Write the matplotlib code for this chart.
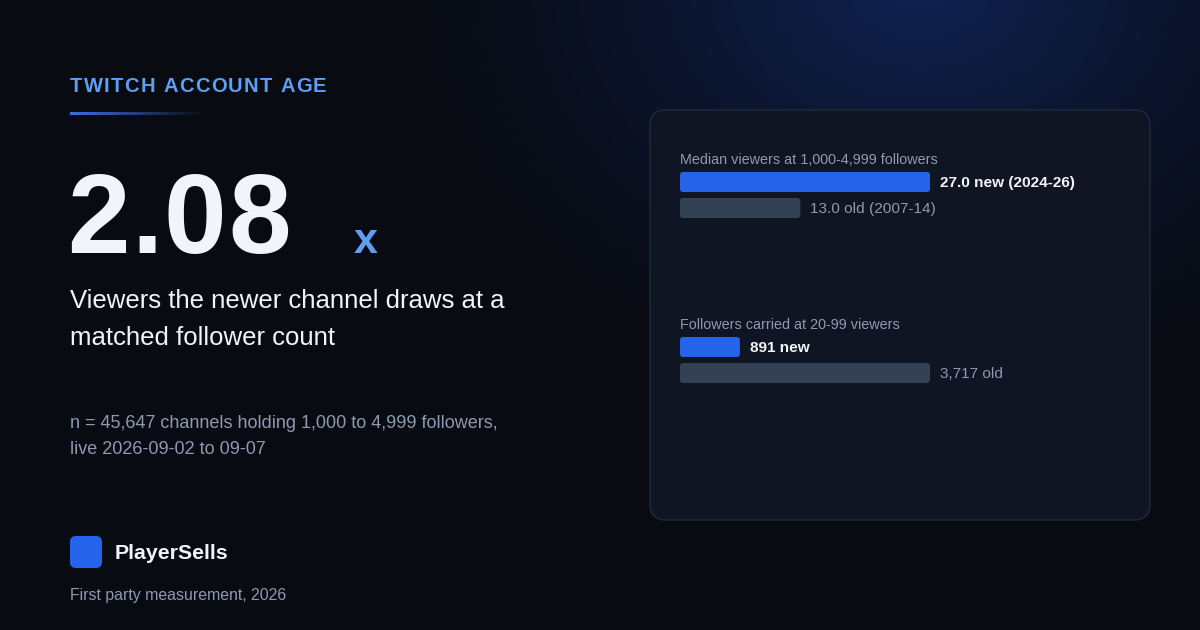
import numpy as np
import matplotlib
matplotlib.use("Agg")
import matplotlib.pyplot as plt
from matplotlib.patches import FancyBboxPatch
from matplotlib.colors import LinearSegmentedColormap

plt.rcParams["font.family"] = ["Liberation Sans", "DejaVu Sans"]

# chart data
kicker = "TWITCH ACCOUNT AGE"
headline_value = "2.08"
headline_unit = "x"
headline_text = ["Viewers the newer channel draws at a", "matched follower count"]
note_lines = ["n = 45,647 channels holding 1,000 to 4,999 followers,",
              "live 2026-09-02 to 09-07"]
brand = "PlayerSells"
footer = "First party measurement, 2026"

group_titles = ["Median viewers at 1,000-4,999 followers",
                "Followers carried at 20-99 viewers"]
new_values = [27.0, 891]
old_values = [13.0, 3717]
new_labels = ["27.0 new (2024-26)", "891 new"]
old_labels = ["13.0 old (2007-14)", "3,717 old"]

BG = "#080b12"
CARD = "#0f1522"
BLUE = "#2563eb"
SLATE = "#334155"
MUTED = "#8e9ab0"
WHITE = "#f1f5f9"

fig = plt.figure(figsize=(12, 6.3), dpi=100)
ax = fig.add_axes([0, 0, 1, 1])
ax.set_xlim(0, 1200)
ax.set_ylim(630, 0)
ax.axis("off")

# background with blue glow in the upper right
xx, yy = np.meshgrid(np.arange(1200), np.arange(630))
d = np.sqrt(((xx - 920) / 520.0) ** 2 + ((yy + 20) / 420.0) ** 2)
glow = np.clip(1 - d, 0, 1) ** 1.25
base = np.array([8, 11, 18]) / 255.0
tint = np.array([16, 34, 82]) / 255.0
img = base[None, None, :] + glow[:, :, None] * (tint - base)[None, None, :]
ax.imshow(img, extent=[0, 1200, 630, 0], zorder=0, aspect="auto")

renderer = fig.canvas.get_renderer()


def spaced_text(x, y, s, spacing, **kw):
    for ch in s:
        t = ax.text(x, y, ch, **kw)
        w = t.get_window_extent(renderer=renderer).width
        x += w + spacing


# kicker + gradient underline
spaced_text(70, 92, kicker, 1.3, fontsize=14.5, fontweight="bold",
            color="#5f9ef0", va="baseline", zorder=3)
grad = np.linspace(1, 0, 200)[None, :]
cmap = LinearSegmentedColormap.from_list("ul", [BG, "#3b6fe0"])
ax.imshow(grad, extent=[70, 205, 115, 112], cmap=cmap, vmin=0, vmax=1,
          aspect="auto", zorder=2)

# big number
spaced_text(67, 253, headline_value, 1.6, fontsize=81, fontweight="bold",
            color=WHITE, va="baseline", zorder=3)
ax.text(354, 253, headline_unit, fontsize=31, fontweight="bold", color="#5f9ef0",
        va="baseline", zorder=3)

for i, line in enumerate(headline_text):
    ax.text(70, 308 + i * 37, line, fontsize=18.5, color=WHITE, va="baseline", zorder=3)

for i, line in enumerate(note_lines):
    ax.text(70, 428 + i * 26, line, fontsize=13, color=MUTED, va="baseline", zorder=3)

# brand
ax.add_patch(FancyBboxPatch((70, 536), 32, 32, boxstyle="round,pad=0,rounding_size=6",
                            fc=BLUE, ec="none", zorder=3))
ax.text(115, 559, brand, fontsize=15.3, fontweight="bold", color=WHITE,
        va="baseline", zorder=3)
ax.text(70, 600, footer, fontsize=11.4, color=MUTED, va="baseline", zorder=3)

# card
ax.add_patch(FancyBboxPatch((650, 110), 500, 410, boxstyle="round,pad=0,rounding_size=16",
                            fc=CARD, ec="#1e2738", lw=1.2, zorder=2))

bar_x = 680
bar_max = 250
title_y = [164, 329]
for g in range(2):
    top = max(new_values[g], old_values[g])
    ax.text(bar_x, title_y[g], group_titles[g], fontsize=10.4, color=MUTED,
            va="baseline", zorder=3)
    rows = [(new_values[g], new_labels[g], BLUE, WHITE, "bold"),
            (old_values[g], old_labels[g], SLATE, MUTED, "normal")]
    for r, (val, lab, col, tcol, wt) in enumerate(rows):
        y0 = title_y[g] + 8 + r * 26
        w = val / top * bar_max
        ax.add_patch(FancyBboxPatch((bar_x, y0), w, 20,
                                    boxstyle="round,pad=0,rounding_size=3",
                                    fc=col, ec="none", zorder=3))
        ax.text(bar_x + w + 10, y0 + 10.5, lab, fontsize=11.1, fontweight=wt,
                color=tcol, va="center", zorder=3)

fig.savefig("out.png", dpi=100, facecolor=BG)
